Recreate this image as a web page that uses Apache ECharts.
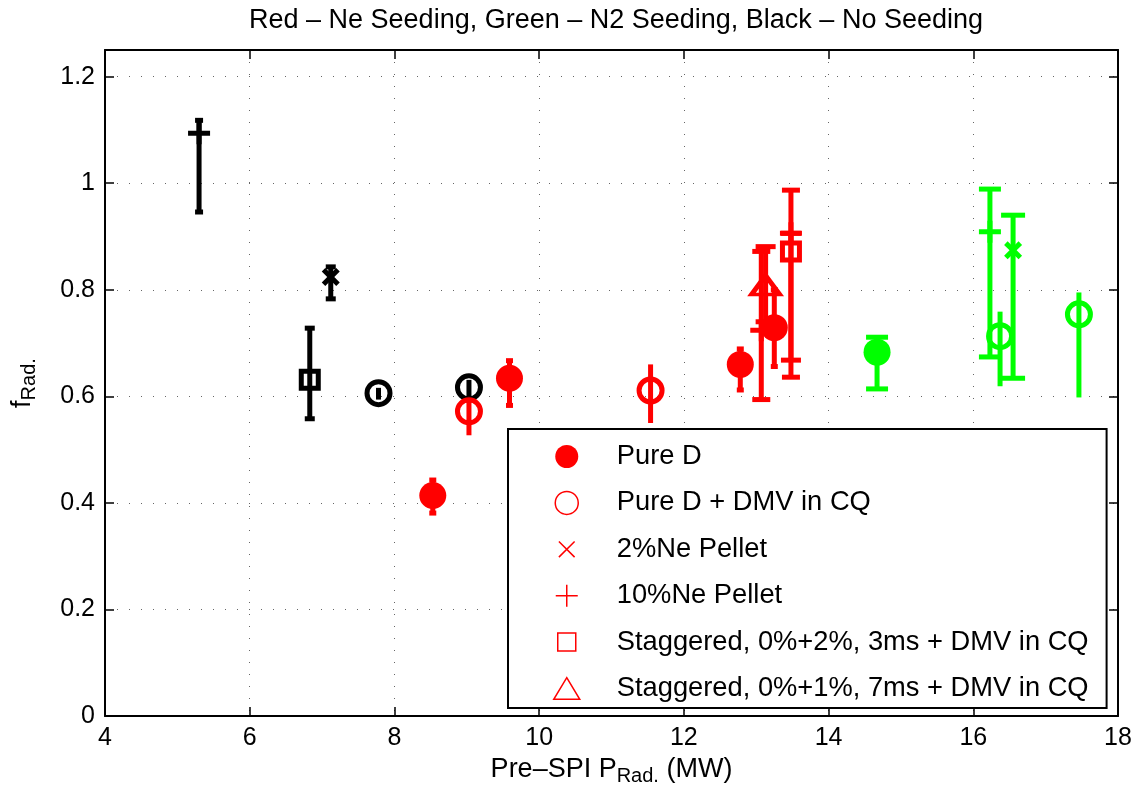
<!DOCTYPE html>
<html><head><meta charset="utf-8">
<script src="https://cdn.jsdelivr.net/npm/echarts@6/dist/echarts.min.js"></script>
<style>html,body{margin:0;padding:0;background:#fff}#c{width:1139px;height:796px}</style>
</head><body><div id="c"></div>
<script>
// Each point: [x (Pre-SPI P_Rad, MW), f_Rad, error low, error high]
const redPureD     = [[8.53,0.414,0.381,0.443],[9.59,0.634,0.583,0.667],[12.78,0.660,0.612,0.689],[13.25,0.729,0.656,0.800]];
const redPureDDMV  = [[9.03,0.572,0.527,0.600],[11.54,0.611,0.550,0.660]];
const red10Ne      = [[13.07,0.724,0.594,0.872],[13.48,0.906,0.636,0.987]];
const redStag2     = [[13.48,0.872,0.668,0.906]];
const redStag1     = [[13.13,0.809,0.740,0.881]];
const blackPlus    = [[5.30,1.094,0.946,1.118]];
const blackX       = [[7.12,0.824,0.783,0.843]];
const blackSquare  = [[6.83,0.631,0.558,0.728]];
const blackOpen    = [[7.78,0.606,0.594,0.616],[9.03,0.617,0.588,0.631]];
const greenFilled  = [[14.67,0.683,0.614,0.711]];
const greenPlus    = [[16.23,0.909,0.674,0.989]];
const greenX       = [[16.55,0.874,0.634,0.940]];
const greenOpen    = [[16.37,0.713,0.619,0.759],[17.46,0.754,0.598,0.795]];
const xTicks = [4,6,8,10,12,14,16,18];
const yTicks = [0,0.2,0.4,0.6,0.8,1,1.2];
const legendNames = ['Pure D','Pure D + DMV in CQ','2%Ne Pellet','10%Ne Pellet','Staggered, 0%+2%, 3ms + DMV in CQ','Staggered, 0%+1%, 7ms + DMV in CQ'];
const titleText = 'Red – Ne Seeding, Green – N2 Seeding, Black – No Seeding';

const RED='#ff0000', GREEN='#00ff00', BLACK='#000000';
const FONT='Liberation Sans, Arial, Helvetica, sans-serif';
const PLUS='path://M8.5,0H13.5V8.5H22V13.5H13.5V22H8.5V13.5H0V8.5H8.5Z';
const XMARK='path://M0,3.54L3.54,0L9,5.46L14.46,0L18,3.54L12.54,9L18,14.46L14.46,18L9,12.54L3.54,18L0,14.46L5.46,9Z';

function errSeries(data, color, cap){
  return {
    type:'custom', silent:true, z:2,
    data: data.map(d=>[d[0],d[2],d[3]]),
    encode:{x:0,y:[1,2]},
    renderItem(params, api){
      const x=api.value(0);
      const lo=api.coord([x,api.value(1)]);
      const hi=api.coord([x,api.value(2)]);
      const st={stroke:color,lineWidth:5,lineCap:'butt'};
      const ch=[{type:'line',shape:{x1:lo[0],y1:lo[1],x2:hi[0],y2:hi[1]},style:st}];
      if(cap>0){
        ch.push({type:'line',shape:{x1:lo[0]-cap/2,y1:lo[1],x2:lo[0]+cap/2,y2:lo[1]},style:st});
        ch.push({type:'line',shape:{x1:hi[0]-cap/2,y1:hi[1],x2:hi[0]+cap/2,y2:hi[1]},style:st});
      }
      return {type:'group',children:ch};
    }
  };
}
function markSeries(name,data,symbol,size,style){
  return {type:'scatter',name,silent:true,z:3,data:data.map(d=>[d[0],d[1]]),symbol,symbolSize:size,
    itemStyle:Object.assign({opacity:1},style),emphasis:{disabled:true}};
}
const hollow=c=>({color:'rgba(0,0,0,0)',borderColor:c,borderWidth:5});
const filled=c=>({color:c});

const series=[
  errSeries(blackPlus,BLACK,8), markSeries('bPlus',blackPlus,PLUS,22,filled(BLACK)),
  errSeries(blackX,BLACK,10), markSeries('bX',blackX,XMARK,18,filled(BLACK)),
  errSeries(blackSquare,BLACK,10), markSeries('bSq',blackSquare,'rect',17,hollow(BLACK)),
  errSeries(blackOpen,BLACK,0), markSeries('bOpen',blackOpen,'circle',23,hollow(BLACK)),
  errSeries(redPureD,RED,7), markSeries(legendNames[0],redPureD,'circle',27,filled(RED)),
  errSeries(redPureDDMV,RED,0), markSeries(legendNames[1],redPureDDMV,'circle',23,hollow(RED)),
  markSeries(legendNames[2],[],XMARK,18,filled(RED)),
  errSeries(red10Ne,RED,18), markSeries(legendNames[3],red10Ne,PLUS,22,filled(RED)),
  errSeries(redStag2,RED,20), markSeries(legendNames[4],redStag2,'rect',17,hollow(RED)),
  errSeries(redStag1,RED,20), markSeries(legendNames[5],redStag1,'triangle',[28,19],Object.assign(hollow(RED),{borderWidth:4.5})),
  errSeries(greenFilled,GREEN,22), markSeries('gFill',greenFilled,'circle',27,filled(GREEN)),
  errSeries(greenPlus,GREEN,22), markSeries('gPlus',greenPlus,PLUS,22,filled(GREEN)),
  errSeries(greenX,GREEN,24), markSeries('gX',greenX,XMARK,18,filled(GREEN)),
  errSeries(greenOpen,GREEN,0), markSeries('gOpen',greenOpen,'circle',23,hollow(GREEN))
];

const thin={color:'rgba(0,0,0,0)',borderColor:RED,borderWidth:1.5,opacity:1};
const legendIcons=[
  {icon:'circle',itemStyle:{color:RED,borderWidth:0,opacity:1}},
  {icon:'circle',itemStyle:thin},
  {icon:'path://M0,0M26,23M5.15,3.65L20.85,19.35M20.85,3.65L5.15,19.35',itemStyle:thin},
  {icon:'path://M0,0M26,23M2,11.5L24,11.5M13,0.5L13,22.5',itemStyle:thin},
  {icon:'path://M0,0M26,23M4,2.5L22,2.5L22,20.5L4,20.5Z',itemStyle:thin},
  {icon:'path://M0,0M26,23M13,0.7L26,22.3L0,22.3Z',itemStyle:thin}
];

const axisCommon={
  axisLine:{show:true,onZero:false,lineStyle:{color:'#000',width:2}},
  axisTick:{show:true,inside:true,length:9,lineStyle:{color:'#000',width:1.5}},
  splitLine:{show:false}
};
const labelStyle={fontSize:25,color:'#000',fontFamily:FONT};
const nameRich={
  m:{fontSize:27,fontFamily:FONT,color:'#000',lineHeight:30,padding:[0,0,8,0],verticalAlign:'top'},
  s:{fontSize:20,fontFamily:FONT,color:'#000',lineHeight:20,verticalAlign:'bottom'}
};

const option={
  animation:false,
  backgroundColor:'#fff',
  title:{text:titleText,left:611,textAlign:'center',top:2,textStyle:{fontSize:27,fontWeight:'normal',color:'#000',fontFamily:FONT}},
  grid:{left:105,right:21,top:50,bottom:76,containLabel:false},
  xAxis:[
    Object.assign({},axisCommon,{type:'value',position:'bottom',min:xTicks[0],max:xTicks[xTicks.length-1],interval:xTicks[1]-xTicks[0],
      axisLabel:Object.assign({margin:10},labelStyle),
      splitLine:{show:true,lineStyle:{color:'#666',width:1,type:[1,11]}},
      name:'{m|Pre–SPI P}{s|Rad.}{m| (MW)}',nameLocation:'middle',nameGap:38,nameTextStyle:{rich:nameRich}}),
    Object.assign({},axisCommon,{type:'value',position:'top',min:xTicks[0],max:xTicks[xTicks.length-1],interval:xTicks[1]-xTicks[0],axisLabel:{show:false}})
  ],
  yAxis:[
    Object.assign({},axisCommon,{type:'value',position:'left',min:yTicks[0],max:1.25,interval:yTicks[1]-yTicks[0],
      axisLabel:Object.assign({margin:10,showMaxLabel:false,formatter:v=>yTicks.some(t=>Math.abs(t-v)<1e-9)?String(+v.toFixed(1)):''},labelStyle),
      splitLine:{show:true,lineStyle:{color:'#666',width:1,type:[1,11]}},
      name:'{m|f}{s|Rad.}',nameLocation:'middle',nameGap:66,nameRotate:90,nameTextStyle:{rich:nameRich}}),
    Object.assign({},axisCommon,{type:'value',position:'right',min:yTicks[0],max:1.25,interval:yTicks[1]-yTicks[0],axisLabel:{show:false}})
  ],
  legend:{
    orient:'vertical',left:508,top:429,selectedMode:false,
    data:legendNames.map((n,i)=>Object.assign({name:n},legendIcons[i])),
    itemWidth:26,itemHeight:23,itemGap:19.4,
    padding:[14,18,6,45],
    borderColor:'#000',borderWidth:2,backgroundColor:'#fff',
    textStyle:{fontSize:27.3,color:'#000',fontFamily:FONT,lineHeight:23,padding:[0,0,0,32]}
  },
  series
};
const chart=echarts.init(document.getElementById('c'),null,{renderer:'canvas'});
chart.setOption(option);
</script></body></html>
